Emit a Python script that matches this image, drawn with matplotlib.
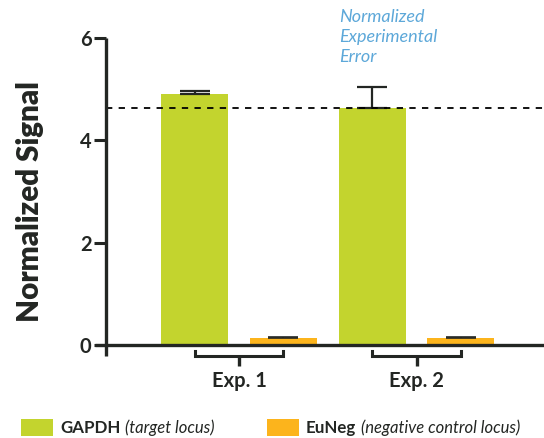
import matplotlib
matplotlib.use("Agg")
import matplotlib.pyplot as plt
from matplotlib.patches import Rectangle
import numpy as np

experiments = ["Exp. 1", "Exp. 2"]
gapdh = [4.90, 4.64]
gapdh_err = [0.07, 0.40]
euneg = [0.14, 0.14]
euneg_err = [0.01, 0.01]
yticks = [0, 2, 4, 6]
ref_line = 4.64
series_names = ["GAPDH", "EuNeg"]
series_notes = ["(target locus)", "(negative control locus)"]
annotation = "Normalized\nExperimental\nError"

GREEN = "#C3D42E"
ORANGE = "#FCB41C"
DARK = "#232623"
BLUE = "#5DA8D9"

plt.rcParams["font.family"] = ["Lato", "DejaVu Sans"]

W, H = 544, 438
fig = plt.figure(figsize=(W / 100, H / 100), dpi=100)
ax_left, ax_right, ax_bot, ax_top = 106, 544, 345, 38
ax = fig.add_axes([ax_left / W, (H - ax_bot) / H, (ax_right - ax_left) / W, (ax_bot - ax_top) / H])

x = np.arange(len(experiments))
bw = 0.377
off = 0.25
ax.bar(x - off, gapdh, width=bw, color=GREEN, zorder=2)
ax.bar(x + off, euneg, width=bw, color=ORANGE, zorder=2)
ax.errorbar(x - off, gapdh, yerr=[np.zeros(len(gapdh)), gapdh_err], fmt="none",
            ecolor=DARK, elinewidth=1.6, capsize=11, capthick=1.6, zorder=3)
ax.errorbar(x + off, euneg, yerr=[np.zeros(len(euneg)), euneg_err], fmt="none",
            ecolor=DARK, elinewidth=1.2, capsize=11, capthick=1.2, zorder=3)

ax.axhline(ref_line, color="black", lw=1.3, ls=(0, (3.5, 3.5)), zorder=4)

ax.set_xlim(-0.749, 1.718)
ax.set_ylim(0, 6)
for s in ax.spines.values():
    s.set_visible(False)
ax.set_xticks([])
ax.set_yticks(yticks)
ax.set_yticklabels([str(v) for v in yticks], fontsize=14.5, fontweight="bold", color=DARK)
ax.tick_params(axis="y", length=8.5, width=2.2, color=DARK, pad=2)

ah = ax_bot - ax_top
aw = ax_right - ax_left
# axis lines
ax.plot([0, 0], [-11 / ah, 1], transform=ax.transAxes, color=DARK, lw=2.4, clip_on=False, zorder=5,
        solid_capstyle="butt")
ax.plot([-11 / aw, 1], [0, 0], transform=ax.transAxes, color=DARK, lw=2.4, clip_on=False, zorder=5,
        solid_capstyle="butt")

# brackets
tr = ax.get_xaxis_transform()
for i, name in enumerate(experiments):
    xl, xr = x[i] - off, x[i] + off
    ax.plot([xl, xl, xr, xr], [-5.5 / ah, -11 / ah, -11 / ah, -5.5 / ah], transform=tr,
            color=DARK, lw=2.2, clip_on=False, solid_joinstyle="miter")
    ax.plot([x[i], x[i]], [-11 / ah, -21 / ah], transform=tr, color=DARK, lw=2.4, clip_on=False,
            solid_capstyle="butt")
    ax.text(x[i], -36 / ah, name, transform=tr, ha="center", va="center", fontsize=14.5,
            fontweight="bold", color=DARK)

ax.set_ylabel("Normalized Signal", fontsize=21.3, fontweight="heavy", color=DARK)
ax.yaxis.set_label_coords((44 - 106) / aw, 0.5 - 10.5 / ah)

fig.text(339 / W, 1 - 9 / H, annotation, ha="left", va="top", fontsize=13, style="italic",
         fontweight="normal", color=BLUE, linespacing=1.3)

# legend
fig.canvas.draw()
r = fig.canvas.get_renderer()
colors = [GREEN, ORANGE]
px = [21, 267]
for i in range(2):
    fig.patches.append(Rectangle((px[i] / W, (H - 436) / H), 32 / W, 17 / H, transform=fig.transFigure,
                                 facecolor=colors[i], edgecolor="none"))
    t = fig.text((px[i] + 39) / W, (H - 428) / H, series_names[i], ha="left", va="center",
                 fontsize=12.2, fontweight="bold", color=DARK)
    bb = t.get_window_extent(r)
    fig.text((bb.x1 + 5) / W, (H - 428) / H, series_notes[i], ha="left", va="center",
             fontsize=12, style="italic", fontweight="normal", color=DARK)

fig.savefig("out.png", dpi=100)
